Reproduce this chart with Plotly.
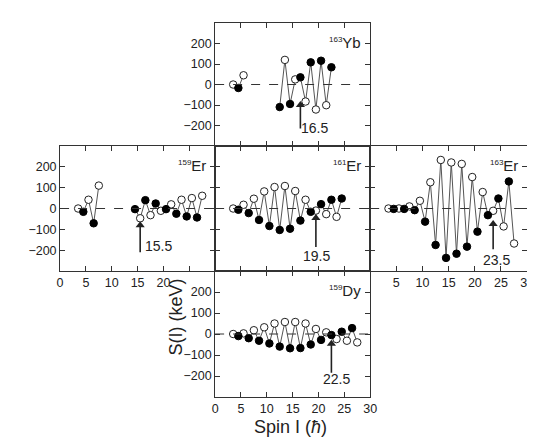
import plotly.graph_objects as go

# ---------------- data ----------------
yb163_spin = [3.5, 4.5, 5.5, 12.5, 13.5, 14.5, 15.5, 16.5, 17.5, 18.5, 19.5, 20.5, 21.5, 22.5]
yb163_S    = [0, -17, 45, -110, 120, -95, 25, 35, -83, 108, -122, 116, -101, 84]

er159_spin = [3.5, 4.5, 5.5, 6.5, 7.5, 14.5, 15.5, 16.5, 17.5, 18.5, 19.5, 20.5, 21.5, 22.5, 23.5, 24.5, 25.5, 26.5, 27.5]
er159_S    = [0, -16, 42, -71, 110, -3, -47, 40, -32, 24, -11, -3, 20, -25, 42, -38, 50, -43, 61]

er161_spin = [3.5, 4.5, 5.5, 6.5, 7.5, 8.5, 9.5, 10.5, 11.5, 12.5, 13.5, 14.5, 15.5, 16.5, 17.5, 18.5, 19.5, 20.5, 21.5, 22.5, 23.5, 24.5]
er161_S    = [0, -6, 18, -22, 47, -55, 82, -84, 103, -103, 108, -97, 84, -58, 42, -16, -10, 21, -27, 42, -40, 48]

er163_spin = [3.5, 4.5, 5.5, 6.5, 7.5, 8.5, 9.5, 10.5, 11.5, 12.5, 13.5, 14.5, 15.5, 16.5, 17.5, 18.5, 19.5, 20.5, 21.5, 22.5, 23.5, 24.5, 25.5, 26.5, 27.5]
er163_S    = [0, -2, 0, -2, 10, -8, 37, -63, 126, -175, 233, -237, 221, -217, 214, -183, 151, -111, 79, -32, -11, 48, -86, 130, -168]

dy159_spin = [3.5, 4.5, 5.5, 6.5, 7.5, 8.5, 9.5, 10.5, 11.5, 12.5, 13.5, 14.5, 15.5, 16.5, 17.5, 18.5, 19.5, 20.5, 21.5, 22.5, 23.5, 24.5, 25.5, 26.5, 27.5]
dy159_S    = [0, -10, 3, -20, 18, -32, 32, -45, 50, -60, 57, -68, 57, -67, 50, -50, 24, -28, 8, -5, -24, 11, -32, 28, -40]

panels = [
    # (axis suffix, mass, element, spins, values, arrow spin, arrow head, arrow tail, text x, text y)
    ("",  "163", "Yb", yb163_spin, yb163_S, 16.5, -100, -215, 19.3, -212),
    ("2", "159", "Er", er159_spin, er159_S, 15.5, -80, -210, 19.0, -182),
    ("3", "161", "Er", er161_spin, er161_S, 19.5, -46, -185, 19.6, -226),
    ("4", "163", "Er", er163_spin, er163_S, 23.5, -74, -195, 24.1, -248),
    ("5", "159", "Dy", dy159_spin, dy159_S, 22.5, -46, -185, 23.5, -212),
]

xticks = [0, 5, 10, 15, 20, 25, 30]
yticks = [-200, -100, 0, 100, 200]

W, H = 535, 445
def px_x(a, b):
    return [a / W, b / W]
def px_y(top, bottom):
    return [1 - bottom / H, 1 - top / H]

domains = {
    "":  (px_x(208, 366), px_y(15, 138)),
    "2": (px_x(50, 208),  px_y(138, 263)),
    "3": (px_x(208, 366), px_y(138, 263)),
    "4": (px_x(366, 526), px_y(138, 263)),
    "5": (px_x(208, 366), px_y(263, 389)),
}
# which x ticks carry a label in each panel (None = no labels)
xlabelled = {
    "":  None,
    "2": [0, 5, 10, 15, 20],
    "3": None,
    "4": [5, 10, 15, 20, 25, 30],
    "5": [0, 5, 10, 15, 20, 25, 30],
}
ylabels_on = {"": True, "2": True, "3": False, "4": False, "5": True}

FONT = "Liberation Sans, Arial, sans-serif"
fig = go.Figure()
annotations = []
shapes = []

for suf, mass, el, spins, vals, a_s, a_head, a_tail, tx, ty in panels:
    xa, ya = "x" + suf, "y" + suf
    # line, broken where spins are not consecutive
    lx, ly = [], []
    for i, (s, v) in enumerate(zip(spins, vals)):
        if i > 0 and s - spins[i - 1] > 1.01:
            lx.append(None); ly.append(None)
        lx.append(s); ly.append(v)
    fig.add_trace(go.Scatter(x=lx, y=ly, mode="lines", xaxis=xa, yaxis=ya,
                             line=dict(color="#555555", width=1), showlegend=False,
                             hoverinfo="skip"))
    filled = [((s - 0.5) % 2 == 0) for s in spins]
    fx = [s for s, f in zip(spins, filled) if f]
    fy = [v for v, f in zip(vals, filled) if f]
    ox = [s for s, f in zip(spins, filled) if not f]
    oy = [v for v, f in zip(vals, filled) if not f]
    fig.add_trace(go.Scatter(x=ox, y=oy, mode="markers", xaxis=xa, yaxis=ya,
                             marker=dict(symbol="circle", size=7.5, color="white",
                                         line=dict(color="#222222", width=1)),
                             showlegend=False))
    fig.add_trace(go.Scatter(x=fx, y=fy, mode="markers", xaxis=xa, yaxis=ya,
                             marker=dict(symbol="circle", size=7.5, color="black",
                                         line=dict(color="black", width=1)),
                             showlegend=False))
    # zero dashed line
    shapes.append(dict(type="line", xref=xa + " domain", yref=ya, x0=0, x1=1, y0=0, y1=0,
                       line=dict(color="#333333", width=1, dash="dash")))
    # arrow: stem + triangular head
    fig.add_trace(go.Scatter(x=[a_s, a_s], y=[a_tail, a_head], mode="lines", xaxis=xa, yaxis=ya,
                             line=dict(color="#222222", width=1.6), showlegend=False,
                             hoverinfo="skip"))
    fig.add_trace(go.Scatter(x=[a_s], y=[a_head], mode="markers", xaxis=xa, yaxis=ya,
                             marker=dict(symbol="triangle-up", size=8, color="#222222"),
                             showlegend=False, hoverinfo="skip"))
    annotations.append(dict(x=tx, y=ty, xref=xa, yref=ya, text=f"{a_s}", showarrow=False,
                            font=dict(size=14, color="#222222", family=FONT)))
    # nucleus label
    annotations.append(dict(x=28.6, y=205, xref=xa, yref=ya, xanchor="right",
                            text=f"<sup><span style='font-size:8px'>{mass}</span></sup>{el}",
                            showarrow=False,
                            font=dict(size=15, color="#222222", family=FONT)))

    xd, yd = domains[suf]
    axis_common = dict(showline=True, linecolor="#333333", linewidth=1, mirror="ticks",
                       ticks="inside", ticklen=5, tickcolor="#333333", tickwidth=1.2,
                       showgrid=False, zeroline=False,
                       tickfont=dict(size=12.5, color="#222222", family=FONT))
    lab = xlabelled[suf]
    if lab is None:
        xaxis = dict(domain=xd, range=[0, 30], anchor=ya, tickmode="array", tickvals=xticks,
                     showticklabels=False, **axis_common)
    else:
        rest = [t for t in xticks if t not in lab]
        xaxis = dict(domain=xd, range=[0, 30], anchor=ya, tickmode="array", tickvals=lab,
                     ticktext=[str(t) for t in lab],
                     minor=dict(tickmode="array", tickvals=rest, ticks="inside", ticklen=5,
                                tickcolor="#333333", tickwidth=1.2, showgrid=False),
                     **axis_common)
    yaxis = dict(domain=yd, range=[-300, 300], anchor=xa, tickmode="array", tickvals=yticks,
                 showticklabels=ylabels_on[suf], **axis_common)
    fig.update_layout({"xaxis" + suf: xaxis, "yaxis" + suf: yaxis})

# axis titles
annotations.append(dict(x=155 / W, y=1 - 350 / H, xref="paper", yref="paper", text="S(I) (keV)",
                        textangle=-90, showarrow=False,
                        font=dict(size=18, color="#222222", family=FONT)))
annotations.append(dict(x=285 / W, y=1 - 431 / H, xref="paper", yref="paper",
                        text="Spin I (<i>ħ</i>)", showarrow=False,
                        font=dict(size=18, color="#222222", family=FONT)))

fig.update_layout(width=W, height=H, margin=dict(l=0, r=0, t=0, b=0),
                  paper_bgcolor="white", plot_bgcolor="white",
                  annotations=annotations, shapes=shapes, showlegend=False)

fig.write_html("out.html")
